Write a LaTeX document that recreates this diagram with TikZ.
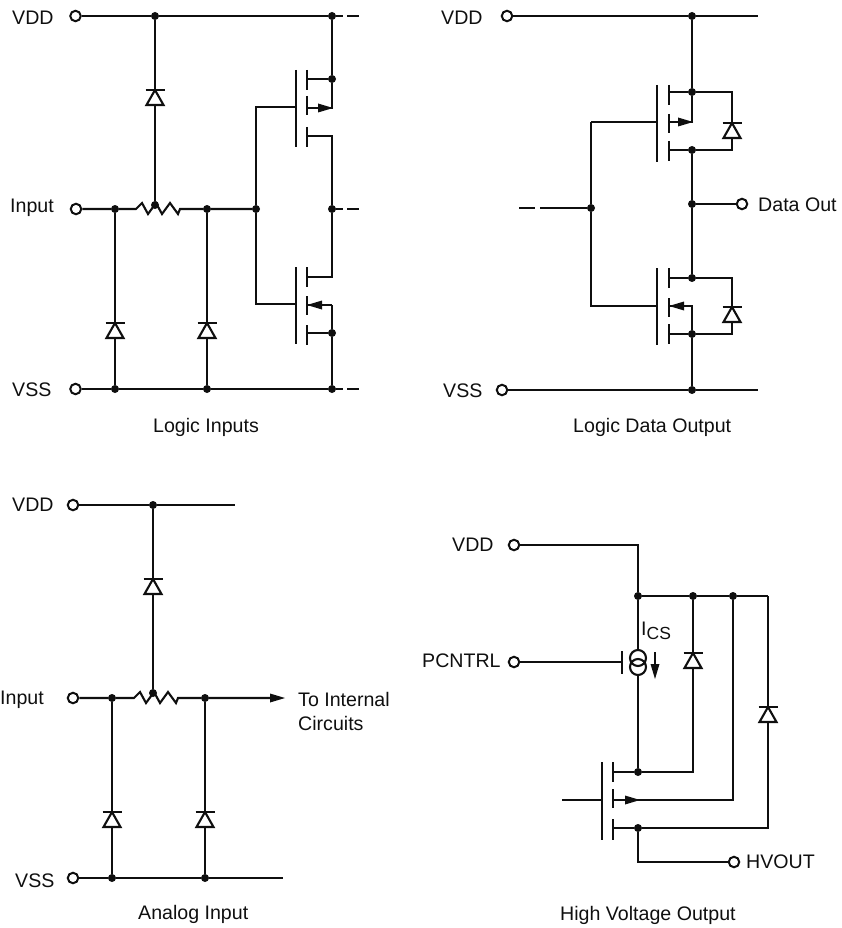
\documentclass[tikz,border=0pt]{standalone}
\usepackage{fontspec}
\setmainfont{Liberation Sans}
\definecolor{ink}{gray}{0.06}
\newcommand{\diodeat}[3]{% name, x, y of bar
  \coordinate (#1-k) at (#2,#3);
  \coordinate (#1-a) at (#2,#3+15);
  \draw[wire,fill=white,line join=miter] (#2,#3) -- (#2-8.5,#3+15) -- (#2+8.5,#3+15) -- cycle;
  \draw[wire] (#2-9.5,#3) -- (#2+9.5,#3);
}
\newcommand{\tipright}[2]{\fill[ink] (#1,#2) -- (#1-15,#2-4.5) -- (#1-15,#2+4.5) -- cycle;}
\newcommand{\tipleft}[2]{\fill[ink] (#1,#2) -- (#1+15,#2-4.5) -- (#1+15,#2+4.5) -- cycle;}
\newcommand{\resist}[2]{% start x, y
  -- (#1,#2) -- (#1+6,#2-6) -- (#1+12,#2+5) -- (#1+20,#2-6) -- (#1+26,#2+5) -- (#1+34,#2-6) -- (#1+42,#2+5) -- (#1+44,#2)}
\newcommand{\gatebars}[5]{% gate x, channel x, top y, offsets of the 2nd and 3rd channel segment
  \draw[wire] (#1,#3) -- (#1,#3+77);
  \draw[wire] (#2,#3) -- (#2,#3+20);
  \draw[wire] (#2,#3+#4) -- (#2,#3+#4+19);
  \draw[wire] (#2,#3+#5) -- (#2,#3+#5+20);
}
\tikzset{
  wire/.style={draw=ink,line width=2.1pt},
  jn/.style={circle,fill=ink,inner sep=0pt,minimum size=8pt},
  term/.style={circle,draw=ink,fill=white,line width=2pt,inner sep=0pt,minimum size=10.5pt},
  lbl/.style={text=ink,font=\fontsize{19.6}{23}\selectfont,inner sep=0pt},
}
\begin{document}
\begin{tikzpicture}[x=1pt,y=-1pt]
\useasboundingbox (0,0) rectangle (841,928);
% ---------- Logic Inputs
\node[term] (a-vdd) at (75.5,16) {};
\node[term] (a-in) at (76,209) {};
\node[term] (a-vss) at (75.5,389) {};
\node[jn] (a1) at (155,16) {};
\node[jn] (a2) at (332,16) {};
\node[jn] (a3) at (115,209) {};
\node[jn] (a4) at (155,205) {};
\node[jn] (a5) at (207,209) {};
\node[jn] (a6) at (256,209) {};
\node[jn] (a7) at (332,209) {};
\node[jn] (a8) at (115,389) {};
\node[jn] (a9) at (207,389) {};
\node[jn] (a10) at (332,389) {};
\node[jn] (a11) at (332,79) {};
\node[jn] (a12) at (332,333) {};
\coordinate (a-e1) at (343,16); \coordinate (a-e2) at (343,209); \coordinate (a-e3) at (343,389);
\draw[wire] (a-vdd) -- (a1) -- (a2) -- (a-e1);
\draw[wire] (347,16) -- (359,16) (347,209) -- (359,209) (347,389) -- (359,389);
\draw[wire] (a-in) -- (a3) -- (136,209) \resist{136}{209} -- (a5) -- (a6);
\draw[wire] (a7) -- (a-e2);
\draw[wire] (a-vss) -- (a8) -- (a9) -- (a10) -- (a-e3);
\diodeat{d1}{155}{90}
\diodeat{d2}{115}{323}
\diodeat{d3}{207}{323}
\draw[wire] (a1) -- (d1-k) (d1-a) -- (a4);
\draw[wire] (a3) -- (d2-k) (d2-a) -- (a8);
\draw[wire] (a5) -- (d3-k) (d3-a) -- (a9);
\gatebars{296}{307}{70}{26}{57}
\gatebars{296}{307}{267}{29}{58}
\draw[wire] (a6) -- (256,107) -- (296,107) (a6) -- (256,304) -- (296,304);
\draw[wire] (a2) -- (a11) -- (332,108) -- (307,108);
\draw[wire] (a11) -- (307,79);
\draw[wire] (307,136) -- (332,136) -- (a7) -- (332,277) -- (307,277);
\draw[wire] (332,305) -- (307,305);
\draw[wire] (332,305) -- (a12) -- (a10);
\draw[wire] (a12) -- (307,333);
\tipright{333}{108}
\tipleft{307}{305}
% ---------- Logic Data Output
\node[term] (b-vdd) at (507,16) {};
\node[term] (b-vss) at (502,390) {};
\node[term] (b-out) at (742,204) {};
\node[jn] (b1) at (692,16) {};
\node[jn] (b2) at (692,92) {};
\node[jn] (b3) at (692,150) {};
\node[jn] (b4) at (692,204) {};
\node[jn] (b5) at (692,278) {};
\node[jn] (b6) at (692,334) {};
\node[jn] (b7) at (692,390) {};
\node[jn] (b8) at (591,208) {};
\coordinate (b-e1) at (758,16); \coordinate (b-e2) at (758,390); \coordinate (b-g) at (540,208);
\draw[wire] (b-vdd) -- (b1) -- (b-e1);
\draw[wire] (b-vss) -- (b7) -- (b-e2);
\draw[wire] (b-g) -- (b8);
\draw[wire] (519,208) -- (535,208);
\diodeat{d4}{732}{123}
\diodeat{d5}{732}{307}
\gatebars{657}{669}{85}{29}{56}
\gatebars{657}{669}{268}{30}{56}
\draw[wire] (591,122) -- (657,122) (591,122) -- (b8) -- (591,306) -- (657,306);
\draw[wire] (b1) -- (b2) -- (692,122) -- (669,122);
\draw[wire] (669,92) -- (b2) -- (732,92) -- (d4-k);
\draw[wire] (d4-a) -- (732,150) -- (b3) -- (669,150);
\draw[wire] (b3) -- (b4) -- (b5) -- (669,278);
\draw[wire] (b5) -- (732,278) -- (d5-k);
\draw[wire] (d5-a) -- (732,334) -- (b6) -- (669,334);
\draw[wire] (669,306) -- (692,306) -- (b6) -- (b7);
\draw[wire] (b4) -- (b-out);
\tipright{693}{122}
\tipleft{669}{306}
% ---------- Analog Input
\node[term] (c-vdd) at (73,505) {};
\node[term] (c-in) at (73,698) {};
\node[term] (c-vss) at (73,878) {};
\node[jn] (c1) at (153,505) {};
\node[jn] (c2) at (112,698) {};
\node[jn] (c3) at (153,693) {};
\node[jn] (c4) at (205,698) {};
\node[jn] (c5) at (112,878) {};
\node[jn] (c6) at (205,878) {};
\coordinate (c-e1) at (235,505); \coordinate (c-e2) at (283,878); \coordinate (c-e3) at (272,698);
\draw[wire] (c-vdd) -- (c1) -- (c-e1);
\draw[wire] (c-in) -- (c2) -- (134,698) \resist{134}{698} -- (c4) -- (c-e3);
\draw[wire] (c-vss) -- (c5) -- (c6) -- (c-e2);
\diodeat{d6}{153}{579}
\diodeat{d7}{112}{812}
\diodeat{d8}{205}{812}
\draw[wire] (c1) -- (d6-k) (d6-a) -- (c3);
\draw[wire] (c2) -- (d7-k) (d7-a) -- (c5);
\draw[wire] (c4) -- (d8-k) (d8-a) -- (c6);
\tipright{285}{698}
% ---------- High Voltage Output
\node[term] (e-vdd) at (514,545) {};
\node[term] (e-p) at (514,662) {};
\node[term] (e-hv) at (734,862) {};
\node[jn] (e1) at (638,596) {};
\node[jn] (e2) at (693,596) {};
\node[jn] (e3) at (733,596) {};
\node[jn] (e4) at (638,772) {};
\node[jn] (e5) at (638,828) {};
\coordinate (e-c) at (638,545); \coordinate (e-r) at (768,596);
\coordinate (e-g) at (622,662); \coordinate (e-in) at (562,800);
\draw[wire] (e-vdd) -- (e-c) -- (e1) -- (e2) -- (e3) -- (e-r);
\draw[wire] (e-p) -- (e-g);
\draw[wire] (622,651) -- (622,674);
\draw[wire] (e1) -- (638,650);
\draw[wire] (638,675) -- (e4);
\draw[wire] (638,658) circle[radius=8] (638,667) circle[radius=8];
\draw[wire] (655,652) -- (655,666);
\fill[ink] (655,679) -- (650.5,664) -- (659.5,664) -- cycle;
\diodeat{d9}{693}{653}
\diodeat{d10}{768}{707}
\draw[wire] (e2) -- (d9-k) (d9-a) -- (693,772) -- (e4) -- (613,772);
\draw[wire] (e-r) -- (d10-k) (d10-a) -- (768,828) -- (e5) -- (613,828);
\draw[wire] (e3) -- (733,800) -- (613,800);
\draw[wire] (e-in) -- (602,800);
\draw[wire] (602,762) -- (602,840);
\draw[wire] (613,762) -- (613,782) (613,789) -- (613,808) (613,819) -- (613,840);
\draw[wire] (e5) -- (638,862) -- (e-hv);
\tipright{640}{800}
% ---------- Labels
\node[lbl,anchor=west] (t1) at (12,18) {VDD};
\node[lbl,anchor=west] (t2) at (10,208) {Input};
\node[lbl,anchor=west] (t3) at (12,390) {VSS};
\node[lbl,anchor=west] (t4) at (153,427) {Logic Inputs};
\node[lbl,anchor=west] (t5) at (441,18) {VDD};
\node[lbl,anchor=west] (t6) at (443,391) {VSS};
\node[lbl,anchor=west] (t7) at (758,205) {Data Out};
\node[lbl,anchor=west] (t8) at (573,427) {Logic Data Output};
\node[lbl,anchor=west] (t9) at (12,505) {VDD};
\node[lbl,anchor=west] (t10) at (0,700) {Input};
\node[lbl,anchor=west] (t11) at (15,881) {VSS};
\node[lbl,anchor=west] (t12) at (298,699) {To Internal};
\node[lbl,anchor=west] (t13) at (298,723) {Circuits};
\node[lbl,anchor=west] (t14) at (138,914) {Analog Input};
\node[lbl,anchor=west] (t15) at (452,545) {VDD};
\node[lbl,anchor=west] (t16) at (422,661) {PCNTRL};
\node[lbl,anchor=base west] (t17) at (641,635) {I\raisebox{-4pt}{\fontsize{17.5}{20}\selectfont CS}};
\node[lbl,anchor=west] (t18) at (746,862) {HVOUT};
\node[lbl,anchor=west] (t19) at (560,915) {High Voltage Output};
\end{tikzpicture}
\end{document}
